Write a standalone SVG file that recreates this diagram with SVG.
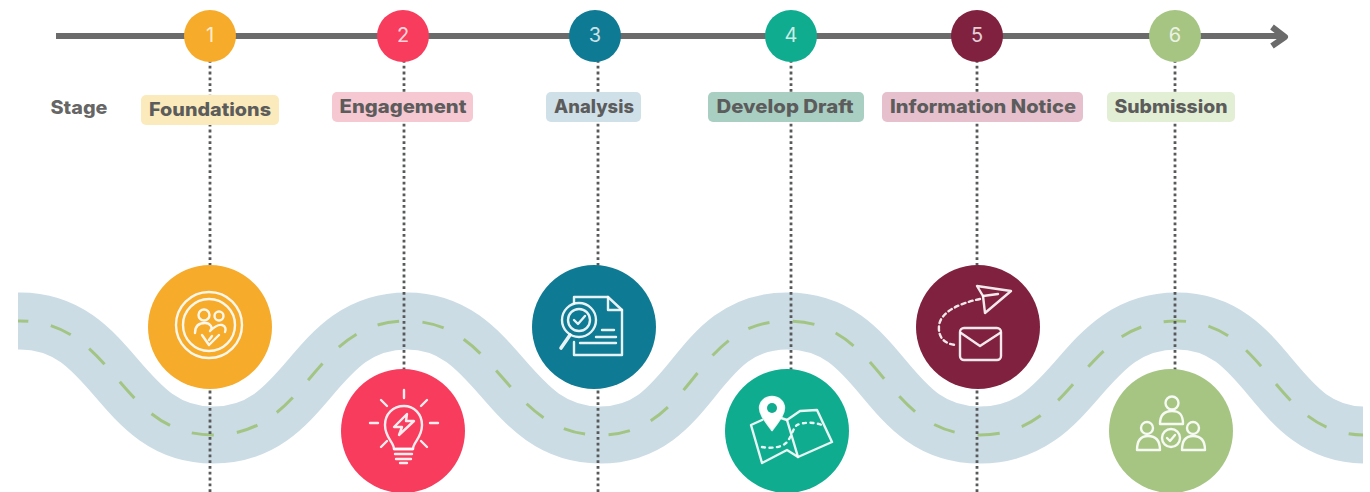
<svg xmlns="http://www.w3.org/2000/svg" width="1370" height="492" viewBox="0 0 1370 492">
<style>
text{font-family:"Inter","Liberation Sans",sans-serif}
.lbl{font-size:18.5px;font-weight:800;fill:#5c5c5c;text-anchor:middle}
.num{font-size:20px;font-weight:400;fill:#fff;fill-opacity:.8;text-anchor:middle}
.dot{fill:none;stroke:#58595b;stroke-width:2.8;stroke-dasharray:2.8 3}
.ic{fill:none;stroke:#fff;stroke-width:2.4;stroke-linecap:round;stroke-linejoin:round;stroke-opacity:.9}
</style>
<defs>
<clipPath id="roadclip"><rect x="18" y="270" width="1345" height="222"/></clipPath>
<path id="roadpath" d="M-20 321 L20 321 C115 321 118 435 213 435 C310 435 310 321 407 321 C500 321 505 435 600 435 C695 435 692 321 787 321 C885 321 882 435 980 435 C1078 435 1079 321 1177 321 C1270 321 1272 435 1365 435 L1400 435"/>
</defs>
<rect width="1370" height="492" fill="#fff"/>
<g id="road" clip-path="url(#roadclip)">
<use href="#roadpath" fill="none" stroke="#cbdce5" stroke-width="57"/>
<use href="#roadpath" fill="none" stroke="#a3c583" stroke-width="3" stroke-dasharray="22 23.1" stroke-dashoffset="19"/>
</g>
<g id="connectors">
<line class="dot" x1="210" y1="60" x2="210" y2="492"/>
<line class="dot" x1="404" y1="60" x2="404" y2="492"/>
<line class="dot" x1="598" y1="60" x2="598" y2="492"/>
<line class="dot" x1="791" y1="60" x2="791" y2="492"/>
<line class="dot" x1="977" y1="60" x2="977" y2="492"/>
<line class="dot" x1="1175" y1="60" x2="1175" y2="492"/>
<path d="M56 36H1283M1272 27L1285 37L1272 46" fill="none" stroke="#6b6b6b" stroke-width="6" stroke-linejoin="round"/>
</g>
<text x="79" y="114" class="lbl" fill-opacity=".95" textLength="57" lengthAdjust="spacingAndGlyphs">Stage</text>
<g id="stage1">
<circle cx="210" cy="36" r="26" fill="#f7ab2a"/><text x="210" y="42" class="num">1</text>
<rect x="141" y="95" width="138" height="30" rx="5" fill="#fbeabb"/><text x="210" y="116" class="lbl" textLength="122" lengthAdjust="spacingAndGlyphs">Foundations</text>
<circle cx="210" cy="327" r="62" fill="#f7ab2a"/>
<g class="ic"><circle cx="209" cy="325" r="33"/><circle cx="209" cy="325" r="26"/>
<circle cx="204" cy="315" r="5.5"/><circle cx="219" cy="316" r="4.5"/>
<path d="M195 333C195 324 201 323 205 323C210 323 214 328 210 331C214 327 218 324 222 325C226 326 226 330 225 332"/>
<path d="M202 335L209 345L219 335M212 336L209 340"/></g>
</g>
<g id="stage2">
<circle cx="403" cy="36" r="26" fill="#f73c5d"/><text x="403" y="42" class="num">2</text>
<rect x="332" y="92" width="141" height="30" rx="5" fill="#f6c8d2"/><text x="403" y="113" class="lbl" textLength="127" lengthAdjust="spacingAndGlyphs">Engagement</text>
<circle cx="403" cy="431" r="62" fill="#f73c5d"/>
<g class="ic"><path d="M394 449C394 442 385 438 385 425C385 414 393 406 404 406C414 406 422 414 422 425C422 438 413 442 413 449Z"/>
<path d="M394 449H413M395 454H412M396 459H411M400 463H407"/>
<path d="M404 390V398M381 400L387 406M427 400L421 406M370 423H378M430 423H438M381 447L387 441M427 447L421 441"/>
<path d="M407 414L394 427H402L399 435L414 421H406Z"/></g>
</g>
<g id="stage3">
<circle cx="595" cy="36" r="26" fill="#0f7a94"/><text x="595" y="42" class="num">3</text>
<rect x="546" y="92" width="95" height="30" rx="5" fill="#cfe0e9"/><text x="594" y="113" class="lbl" textLength="80" lengthAdjust="spacingAndGlyphs">Analysis</text>
<circle cx="594" cy="327" r="62" fill="#0f7a94"/>
<g class="ic"><path d="M574 303V297H608L622 310V355H574V342"/><path d="M608 297V310H622"/>
<circle cx="579" cy="320" r="17"/><circle cx="579" cy="320" r="11"/>
<path d="M574 320L578 324L585 316"/>
<path d="M570 335L561 348" stroke-width="3.6"/>
<path d="M602 330H614M596 337H616M580 343H616"/></g>
</g>
<g id="stage4">
<circle cx="791" cy="36" r="26" fill="#10ac90"/><text x="791" y="42" class="num">4</text>
<rect x="708" y="92" width="156" height="30" rx="5" fill="#a9cfc3"/><text x="785" y="113" class="lbl" textLength="137" lengthAdjust="spacingAndGlyphs">Develop Draft</text>
<circle cx="787" cy="431" r="62" fill="#10ac90"/>
<g class="ic"><path d="M762 420L751 425L762 463L787 450L798 457L832 442L817 410L800 411L787 420L778 417"/>
<path d="M787 420L798 457"/>
<path d="M762 447C772 449 783 447 787 442C792 436 793 428 797 425C804 422 814 422 822 425" stroke-dasharray="3 4.5"/>
<path d="M772 430C764 419 760 414 760 408C760 402 765 397 772 397C779 397 784 402 784 408C784 414 780 419 772 430Z" fill="#fff"/>
<circle cx="772" cy="408" r="5" fill="#10ac90" stroke="none"/></g>
</g>
<g id="stage5">
<circle cx="977" cy="36" r="26" fill="#80213f"/><text x="977" y="42" class="num">5</text>
<rect x="882" y="92" width="201" height="30" rx="5" fill="#e6c1cd"/><text x="983" y="113" class="lbl" textLength="186" lengthAdjust="spacingAndGlyphs">Information Notice</text>
<circle cx="978" cy="327" r="62" fill="#80213f"/>
<g class="ic"><path d="M977 286L1011 291L985 313L983 296Z"/><path d="M983 296L998 294"/>
<path d="M980 299C960 303 940 312 939 326C938 338 945 344 956 345" stroke-dasharray="4 3.5"/>
<rect x="960" y="328" width="41" height="32" rx="4"/><path d="M961 333L980 346L1000 333"/></g>
</g>
<g id="stage6">
<circle cx="1175" cy="36" r="26" fill="#a6c583"/><text x="1175" y="42" class="num">6</text>
<rect x="1107" y="92" width="128" height="30" rx="5" fill="#e3efd4"/><text x="1171" y="113" class="lbl" textLength="113" lengthAdjust="spacingAndGlyphs">Submission</text>
<circle cx="1171" cy="431" r="62" fill="#a6c583"/>
<g class="ic"><circle cx="1172" cy="403" r="6.5"/><path d="M1160 424C1160 414 1165 411 1172 411C1179 411 1183 414 1183 424Z"/>
<circle cx="1147" cy="428" r="6"/><path d="M1137 450C1137 440 1141 436 1148 436C1155 436 1160 440 1160 450Z"/>
<circle cx="1193" cy="428" r="6"/><path d="M1182 450C1182 440 1186 436 1193 436C1200 436 1205 440 1205 450Z"/>
<circle cx="1171" cy="438" r="9"/><path d="M1167 438L1170 441L1175 435"/></g>
</g>
</svg>
